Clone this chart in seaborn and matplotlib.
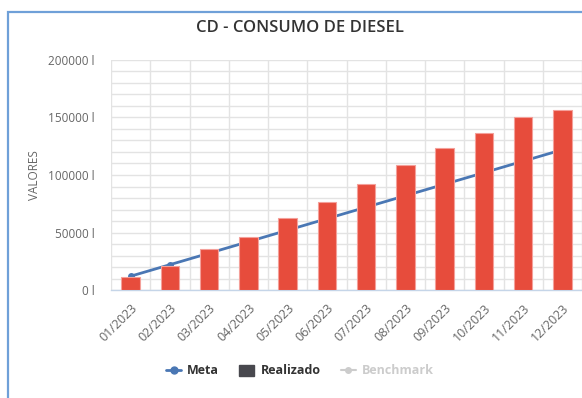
import numpy as np
import pandas as pd
import seaborn as sns
import matplotlib.pyplot as plt
from matplotlib.lines import Line2D
from matplotlib.patches import Patch, Rectangle
from matplotlib.ticker import MultipleLocator, FuncFormatter

sns.set_theme(style="white")
plt.rcParams["font.family"] = ["Open Sans", "DejaVu Sans"]

months = ["01/2023", "02/2023", "03/2023", "04/2023", "05/2023", "06/2023",
          "07/2023", "08/2023", "09/2023", "10/2023", "11/2023", "12/2023"]
realizado = [11500, 21000, 35700, 46100, 62600, 76500,
             92200, 108700, 123200, 136200, 150200, 156200]
meta = [12000, 22000, 32000, 42000, 52000, 62000,
        72000, 82000, 92000, 102000, 112000, 122000]

df = pd.DataFrame({"mes": months, "realizado": realizado, "meta": meta})

BAR = "#e74c3c"
LINE = "#4a77b4"
GRID = "#e3e3e3"
TXT = "#666666"

fig = plt.figure(figsize=(5.82, 3.98), dpi=100)
ax = fig.add_axes([111 / 582, (398 - 290) / 398, 471 / 582, 230 / 398])

# panel frame
fig.patches.append(Rectangle((8 / 582, -0.02), 1.0, 1.0 - 12 / 398 + 0.02,
                             transform=fig.transFigure, fill=False,
                             edgecolor="#6fa0d8", linewidth=1.6, zorder=0))

sns.lineplot(data=df, x="mes", y="meta", ax=ax, color=LINE, linewidth=2,
             marker="o", markersize=5, markeredgewidth=0, zorder=2, sort=False)
sns.barplot(data=df, x="mes", y="realizado", ax=ax, color=BAR, saturation=1,
            width=0.47, edgecolor="#f4a09a", linewidth=0.8, zorder=3)

ax.set_xlim(-0.5, len(months) - 0.5)
ax.set_ylim(0, 200000)
ax.yaxis.set_major_locator(MultipleLocator(50000))
ax.yaxis.set_minor_locator(MultipleLocator(10000))
ax.yaxis.set_major_formatter(FuncFormatter(lambda v, p: f"{int(v)} l"))
ax.grid(True, which="both", axis="y", color=GRID, linewidth=1, zorder=0)
for b in np.arange(-0.5, len(months) + 0.5, 1.0):
    ax.axvline(b, color=GRID, linewidth=1, zorder=0)
ax.set_axisbelow(True)

for s in ["top", "right", "left"]:
    ax.spines[s].set_visible(False)
ax.spines["bottom"].set_color("#c5d5e8")
ax.spines["bottom"].set_linewidth(1)

ax.set_xticks(range(len(months)))
ax.set_xticklabels(months, rotation=45, ha="right", rotation_mode="anchor",
                   fontsize=9, color=TXT)
ax.tick_params(axis="x", length=0, pad=8)
ax.set_xticks(np.arange(-0.5, len(months) - 0.4, 1.0), minor=True)
ax.tick_params(axis="x", which="minor", length=9, color="#c5d5e8", width=1)
ax.tick_params(axis="y", which="both", length=0, labelsize=8.5,
               labelcolor=TXT, pad=12)

ax.set_xlabel("")
ax.set_ylabel("VALORES", fontsize=8.5, color=TXT, labelpad=5)

fig.text(300 / 582, 1 - 28 / 398, "CD - CONSUMO DE DIESEL", ha="center",
         va="center", fontsize=12, fontweight="semibold", color="#333333")

handles = [
    Line2D([0], [0], color=LINE, marker="o", markersize=5, linewidth=2),
    Patch(facecolor="#48484e", edgecolor="#48484e"),
    Line2D([0], [0], color="#cccccc", marker="o", markersize=4, linewidth=1.5),
]
leg = fig.legend(handles, ["Meta", "Realizado", "Benchmark"], loc="center",
                 bbox_to_anchor=(300 / 582, 1 - 371 / 398), ncol=3,
                 frameon=False, handlelength=1.2, handleheight=1.0,
                 columnspacing=1.6, handletextpad=0.5,
                 prop={"size": 9, "weight": "bold"})
for t, c in zip(leg.get_texts(), ["#333333", "#333333", "#cccccc"]):
    t.set_color(c)

fig.savefig("out.png", dpi=100)
